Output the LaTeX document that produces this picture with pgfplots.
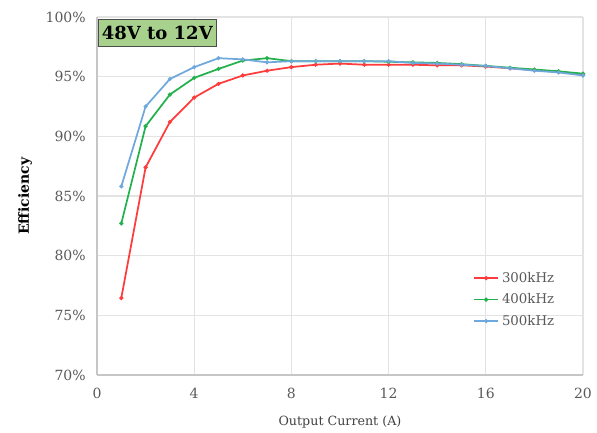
\documentclass[border=0pt]{standalone}
\usepackage{fontspec}
\setmainfont{DejaVu Serif}
\usepackage{pgfplots}
\pgfplotsset{compat=1.18}

\definecolor{c300}{HTML}{FF3B3B}
\definecolor{c400}{HTML}{22B14C}
\definecolor{c500}{HTML}{6FA8DC}
\definecolor{boxgreen}{HTML}{A9D18E}
\definecolor{tickgray}{HTML}{595959}

\begin{document}
\begin{tikzpicture}
\begin{axis}[
  scale only axis,
  width=364.5pt, height=268.5pt,
  xmin=0, xmax=20, ymin=70, ymax=100,
  xtick={0,4,...,20},
  ytick={70,75,...,100},
  yticklabel={\pgfmathprintnumber{\tick}\%},
  /pgf/number format/assume math mode=true,
  grid=major,
  grid style={gray!22, line width=0.8pt},
  axis line style={gray!45, line width=0.8pt},
  axis x line*=bottom, axis y line*=left,
  tick style={draw=none},
  tick label style={font=\fontsize{10.5}{12}\selectfont, text=tickgray},
  x tick label style={yshift=-6pt},
  y tick label style={xshift=-5pt},
  xlabel={Output Current (A)},
  ylabel={\textbf{Efficiency}},
  xlabel style={font=\fontsize{9.5}{11}\selectfont, text=black!75,
    at={(axis description cs:0.5,0)}, anchor=center, yshift=-35pt},
  ylabel style={font=\fontsize{10.5}{12}\selectfont,
    at={(axis description cs:0,0.5)}, anchor=center, yshift=54pt},
  legend style={at={(0.955,0.118)}, anchor=south east, draw=none, fill=none,
    font=\fontsize{10}{12}\selectfont, text=tickgray, row sep=3pt},
  legend cell align=left,
  legend image code/.code={\draw[#1, line width=1.3pt] (0cm,0cm) -- (0.65cm,0cm);
    \fill[#1] (0.325cm,0cm) circle (0.8pt);},
  every axis plot/.append style={line width=1.3pt, mark=*, mark size=0.8pt},
]
\addplot[c300] coordinates {
  (1,76.45) (2,87.4) (3,91.2) (4,93.25) (5,94.4) (6,95.1) (7,95.5) (8,95.8)
  (9,96.0) (10,96.1) (11,96.0) (12,96.0) (13,96.0) (14,95.95) (15,95.95)
  (16,95.85) (17,95.7) (18,95.55) (19,95.4) (20,95.2)
};
\addplot[c400] coordinates {
  (1,82.7) (2,90.85) (3,93.5) (4,94.9) (5,95.65) (6,96.35) (7,96.55) (8,96.3)
  (9,96.3) (10,96.3) (11,96.3) (12,96.25) (13,96.2) (14,96.15) (15,96.05)
  (16,95.9) (17,95.75) (18,95.6) (19,95.45) (20,95.25)
};
\addplot[c500] coordinates {
  (1,85.8) (2,92.5) (3,94.8) (4,95.8) (5,96.55) (6,96.45) (7,96.2) (8,96.3)
  (9,96.3) (10,96.3) (11,96.3) (12,96.3) (13,96.15) (14,96.1) (15,96.0)
  (16,95.9) (17,95.7) (18,95.5) (19,95.35) (20,95.1)
};
\legend{300kHz,400kHz,500kHz}
\node[draw=black!70, fill=boxgreen, line width=0.8pt, anchor=north west,
  font=\fontsize{13.5}{15}\selectfont\bfseries, inner xsep=2.5pt, inner ysep=5pt]
  at (rel axis cs:0.002,0.995) {48V to 12V};
\end{axis}
\path ([shift={(-72.75pt,-40.5pt)}]current axis.south west)
  rectangle ([shift={(10.5pt,12.75pt)}]current axis.north east);
\end{tikzpicture}
\end{document}
